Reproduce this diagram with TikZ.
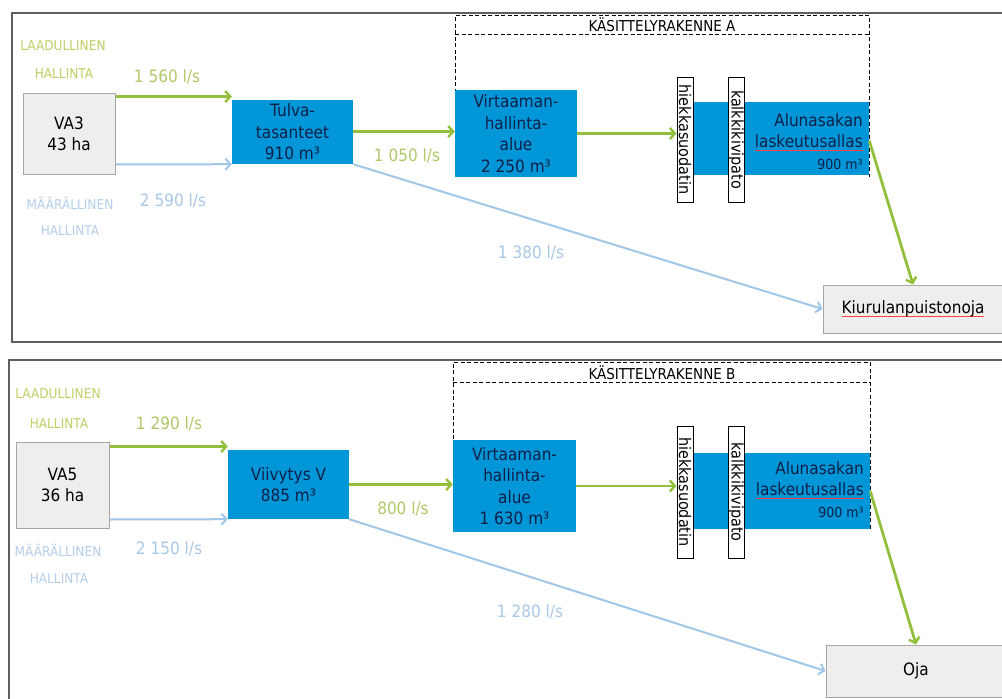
\documentclass[tikz,border=0pt]{standalone}
\usepackage{fontspec}
\setmainfont{DejaVu Sans}[FakeStretch=0.9]
\usetikzlibrary{arrows.meta,calc}

\definecolor{poolblue}{RGB}{0,150,215}
\definecolor{pooltext}{RGB}{15,32,72}
\definecolor{flowgreen}{RGB}{146,192,60}
\definecolor{flowblue}{RGB}{160,198,232}
\definecolor{numgreen}{RGB}{176,200,104}
\definecolor{numblue}{RGB}{168,200,232}
\definecolor{capgreen}{RGB}{192,206,100}
\definecolor{capblue}{RGB}{180,206,234}
\definecolor{srcfill}{RGB}{238,238,236}
\definecolor{framegray}{RGB}{95,95,95}

% red spell-check line under a word
\newcommand\spellmark[1]{\setbox0\hbox{#1}\rlap{\color{red!75}\raisebox{-3pt}{\rule{\wd0}{0.6pt}}}\box0}

\tikzset{
  panel/.style={draw=framegray, line width=1.6pt},
  src/.style={draw=gray!70, line width=1pt, fill=srcfill, inner sep=0pt,
    align=center, font=\fontsize{17}{21}\selectfont, text=black},
  pool/.style={fill=poolblue, inner sep=0pt, align=center, text=pooltext,
    font=\fontsize{17}{21.5}\selectfont},
  filt/.style={draw=black, line width=1pt, fill=white, inner sep=0pt,
    minimum width=16pt},
  filttext/.style={rotate=-90, inner sep=0pt, font=\fontsize{16}{16}\selectfont},
  unitbox/.style={draw=black, line width=1pt, dash pattern=on 4pt off 2.5pt},
  unittitle/.style={font=\fontsize{15}{16}\selectfont, inner sep=0pt},
  garrow/.style={draw=flowgreen, line width=2.8pt,
    -{Straight Barb[length=5pt,width=11pt,line width=2.4pt]}},
  barrow/.style={draw=flowblue, line width=2pt,
    -{Straight Barb[length=5pt,width=11pt,line width=2pt]}},
  gnum/.style={text=numgreen, font=\fontsize{17}{20}\selectfont, inner sep=0pt},
  bnum/.style={text=numblue, font=\fontsize{17}{20}\selectfont, inner sep=0pt},
  gcap/.style={text=capgreen, font=\fontsize{13.5}{15}\selectfont, inner sep=0pt},
  bcap/.style={text=capblue, font=\fontsize{13.5}{15}\selectfont, inner sep=0pt},
}

\begin{document}
\begin{tikzpicture}[x=1pt,y=-1pt]
\useasboundingbox (0,0) rectangle (1002,699);
\clip (0,0) rectangle (1002,699);
\fill[white] (0,0) rectangle (1002,699);

% ---------------- upper scheme: VA3 ----------------
\draw[panel] (12,13) rectangle (1014,342);

% treatment structure A
\coordinate (uaBL) at (455,177);
\coordinate (uaTL) at (455,15);
\coordinate (uaTR) at (869,15);
\coordinate (uaBR) at (869,177);
\draw[unitbox] (uaBL) -- (uaTL) -- (uaTR) -- (uaBR);
\draw[unitbox] (455,34) -- (869,34);
\node[unittitle] (titleA) at (662,25) {KÄSITTELYRAKENNE A};

\node[gcap] (qualA) at (63,46) {LAADULLINEN};
\node[gcap] (qualA2) at (64,74) {HALLINTA};
\node[bcap] (quanA) at (70,203) {MÄÄRÄLLINEN};
\node[bcap] (quanA2) at (70,231) {HALLINTA};

\node[src, minimum width=92pt, minimum height=81pt] (va3) at (69,133.5) {VA3\\43 ha};
\node[pool, minimum width=121pt, minimum height=64pt] (tulva) at (292.5,132) {Tulva-\\tasanteet\\910 m³};
\node[pool, minimum width=122pt, minimum height=87pt] (virtA) at (516,133.5) {Virtaaman-\\hallinta-\\alue\\2 250 m³};
\node[pool, minimum width=176pt, minimum height=73pt] (alunA) at (781,138.5) {};
\node[pool, anchor=north east, align=right] (alunAtxt) at (863,113)
  {Alunasakan\\\spellmark{laskeutusallas}\\{\fontsize{14}{15}\selectfont 900 m³}};
\node[filt, minimum height=125pt] (hiekkaA) at (685,139.5) {};
\node[filttext] (hiekkaAtxt) at (hiekkaA) {hiekkasuodatin};
\node[filt, minimum height=125pt] (kalkkiA) at (736,139.5) {};
\node[filttext] (kalkkiAtxt) at (kalkkiA) {kalkkikivipato};
\node[src, minimum width=180pt, minimum height=48pt] (kiur) at (913,309) {\spellmark{Kiurulanpuistonoja}};

\draw[garrow] ([yshift=-4pt]va3.north east) -- ([yshift=-4pt]va3.north east -| tulva.west);
\draw[barrow] ([yshift=10pt]va3.south east) -- (tulva.south west);
\draw[garrow] ([yshift=0.5pt]tulva.east) -- ([yshift=0.5pt]tulva.east -| virtA.west);
\draw[barrow] (tulva.south east) -- (kiur.west);
\draw[garrow] (virtA.east) -- (virtA.east -| hiekkaA.west);
\draw[garrow] ([yshift=-2pt]alunA.east) -- (kiur.north);

\node[gnum] (fA1) at (167,77) {1 560 l/s};
\node[bnum] (fA2) at (173,201) {2 590 l/s};
\node[gnum] (fA3) at (407,156) {1 050 l/s};
\node[bnum] (fA4) at (531,253) {1 380 l/s};

% ---------------- lower scheme: VA5 ----------------
\draw[panel] (9,360) rectangle (1014,714);

% treatment structure B
\coordinate (ubBL) at (453,530);
\coordinate (ubTL) at (453,362);
\coordinate (ubTR) at (870,362);
\coordinate (ubBR) at (870,530);
\draw[unitbox] (ubBL) -- (ubTL) -- (ubTR) -- (ubBR);
\draw[unitbox] (453,382) -- (870,382);
\node[unittitle] (titleB) at (662,373) {KÄSITTELYRAKENNE B};

\node[gcap] (qualB) at (58,394) {LAADULLINEN};
\node[gcap] (qualB2) at (59,424) {HALLINTA};
\node[bcap] (quanB) at (58,550) {MÄÄRÄLLINEN};
\node[bcap] (quanB2) at (59,579) {HALLINTA};

\node[src, minimum width=93pt, minimum height=86pt] (va5) at (62.5,485) {VA5\\36 ha};
\node[pool, minimum width=121pt, minimum height=69pt] (viiv) at (288.5,484.5) {Viivytys V\\885 m³};
\node[pool, minimum width=123pt, minimum height=92pt] (virtB) at (514.5,486) {Virtaaman-\\hallinta-\\alue\\1 630 m³};
\node[pool, minimum width=177pt, minimum height=76pt] (alunB) at (781.5,491) {};
\node[pool, anchor=north east, align=right] (alunBtxt) at (864,461)
  {Alunasakan\\\spellmark{laskeutusallas}\\{\fontsize{14}{15}\selectfont 900 m³}};
\node[filt, minimum height=132pt] (hiekkaB) at (685,492) {};
\node[filttext] (hiekkaBtxt) at (hiekkaB) {hiekkasuodatin};
\node[filt, minimum height=132pt] (kalkkiB) at (736,492) {};
\node[filttext] (kalkkiBtxt) at (kalkkiB) {kalkkikivipato};
\node[src, minimum width=180pt, minimum height=52pt] (oja) at (916,671) {Oja};

\draw[garrow] ([yshift=-5pt]va5.north east) -- ([yshift=-5pt]va5.north east -| viiv.west);
\draw[barrow] ([yshift=9pt]va5.south east) -- (viiv.south west);
\draw[garrow] (viiv.east) -- (viiv.east -| virtB.west);
\draw[barrow] (viiv.south east) -- (oja.west);
\draw[garrow] (virtB.east) -- (virtB.east -| hiekkaB.west);
\draw[garrow] (alunB.east) -- (oja.north);

\node[gnum] (fB1) at (169,424) {1 290 l/s};
\node[bnum] (fB2) at (169,549) {2 150 l/s};
\node[gnum] (fB3) at (403,509) {800 l/s};
\node[bnum] (fB4) at (530,612) {1 280 l/s};
\end{tikzpicture}
\end{document}
